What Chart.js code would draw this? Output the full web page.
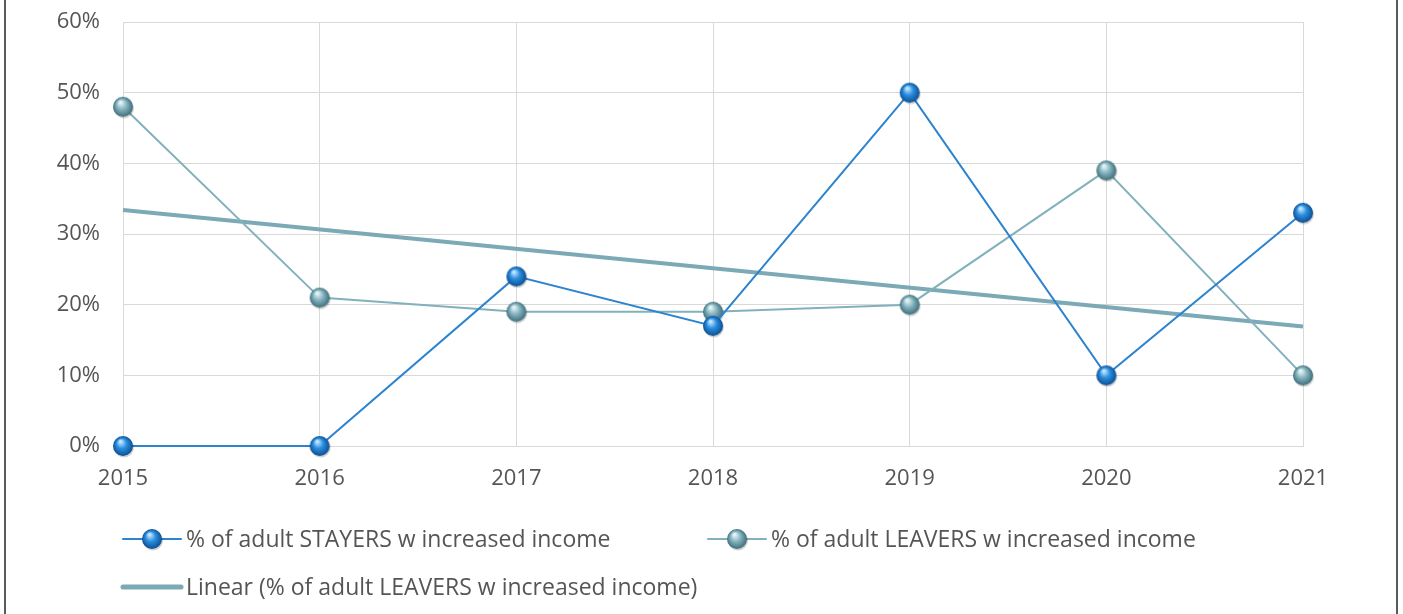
<!DOCTYPE html>
<html>
<head>
<meta charset="utf-8">
<script src="https://cdn.jsdelivr.net/npm/chart.js@4.4.1/dist/chart.umd.min.js"></script>
<style>
  html, body { margin: 0; padding: 0; background: #fff; }
  #wrap { position: relative; width: 1403px; height: 614px; }
</style>
</head>
<body>
<div id="wrap"><canvas id="lineChart" width="1403" height="614"></canvas></div>
<script>
// data
var years = ["2015", "2016", "2017", "2018", "2019", "2020", "2021"];
var stayers = [0, 0, 24, 17, 50, 10, 33];
var leavers = [48, 21, 19, 19, 20, 39, 10];
// trend line end points (Excel linear fit of leavers), middle left empty
var leaversTrend = [33.4, null, null, null, null, null, 16.9];

var stayersLabel = "% of adult STAYERS w increased income";
var leaversLabel = "% of adult LEAVERS w increased income";
var trendLabel = "Linear (% of adult LEAVERS w increased income)";

var FONT = "'Open Sans', 'Noto Sans', sans-serif";
var TEXT = "#555555";

// shaded ball marker
function ball(r, light, mid, dark) {
    var c = document.createElement("canvas");
    var s = r * 2 + 4;
    c.width = s; c.height = s;
    var g = c.getContext("2d");
    var cx = s / 2, cy = s / 2;
    // soft shadow
    g.beginPath();
    g.arc(cx + 1, cy + 1.5, r, 0, Math.PI * 2);
    g.fillStyle = "rgba(0,0,0,0.18)";
    g.fill();
    var grad = g.createRadialGradient(cx - r * 0.25, cy - r * 0.45, r * 0.1, cx, cy, r);
    grad.addColorStop(0, light);
    grad.addColorStop(0.45, mid);
    grad.addColorStop(1, dark);
    g.beginPath();
    g.arc(cx, cy, r, 0, Math.PI * 2);
    g.fillStyle = grad;
    g.fill();
    return c;
}

var blueBall = ball(10, "#bfe4ff", "#2a8ee0", "#0d4f91");
var tealBall = ball(10, "#e4f3f6", "#86b5c0", "#3f6f7b");

var legendPlugin = {
    id: "bottomLegend",
    afterDraw: function (chart) {
        var ctx = chart.ctx;
        ctx.save();
        ctx.font = "23px " + FONT;
        ctx.fillStyle = TEXT;
        ctx.textBaseline = "middle";
        ctx.textAlign = "left";

        function item(x, y, color, width, marker, text) {
            ctx.beginPath();
            ctx.moveTo(x, y);
            ctx.lineTo(x + 58, y);
            ctx.strokeStyle = color;
            ctx.lineWidth = width;
            ctx.lineCap = "round";
            ctx.stroke();
            if (marker) ctx.drawImage(marker, x + 29 - marker.width / 2, y - marker.height / 2);
            ctx.fillText(text, x + 63, y + 1);
        }
        item(123, 539, "#2c83cf", 2, blueBall, stayersLabel);
        item(708, 539, "#82b1bd", 2, tealBall, leaversLabel);
        item(123, 587, "#7ba9b6", 5, null, trendLabel);

        // frame lines at the sides
        ctx.fillStyle = "#5a5a5a";
        ctx.fillRect(4, 0, 2, 614);
        ctx.fillRect(1396, 0, 2, 614);
        ctx.restore();
    }
};

var ctx2 = document.getElementById("lineChart").getContext("2d");

new Chart(ctx2, {
    type: "line",
    data: {
        labels: years,
        datasets: [
            {
                label: stayersLabel,
                data: stayers,
                borderColor: "#2c83cf",
                borderWidth: 2,
                pointStyle: blueBall,
                tension: 0,
                clip: false,
                order: 1
            },
            {
                label: leaversLabel,
                data: leavers,
                borderColor: "#82b1bd",
                borderWidth: 2,
                pointStyle: tealBall,
                tension: 0,
                clip: false,
                order: 2
            },
            {
                label: trendLabel,
                data: leaversTrend,
                borderColor: "#7ba9b6",
                borderWidth: 4,
                pointRadius: 0,
                spanGaps: true,
                order: 3
            }
        ]
    },
    options: {
        responsive: false,
        animation: false,
        layout: { padding: { left: 0, right: 100, top: 22, bottom: 118 } },
        plugins: {
            legend: { display: false },
            tooltip: { enabled: false }
        },
        scales: {
            x: {
                offset: false,
                grid: { color: "#d9d9d9", lineWidth: 1, drawTicks: false },
                border: { color: "#d9d9d9" },
                ticks: { color: TEXT, font: { family: FONT, size: 22 }, padding: 20, maxRotation: 0 },
                afterFit: function (s) {
                    s.height = 50;
                    s.paddingLeft = 0;
                    s.paddingRight = 0;
                }
            },
            y: {
                min: 0,
                max: 60,
                grid: { color: "#d9d9d9", lineWidth: 1, drawTicks: false },
                border: { display: false },
                ticks: {
                    stepSize: 10,
                    color: TEXT,
                    font: { family: FONT, size: 22 },
                    padding: 23,
                    callback: function (v) { return v + "%"; }
                },
                afterFit: function (s) {
                    s.width = 123;
                    s.paddingTop = 0;
                    s.paddingBottom = 0;
                }
            }
        }
    },
    plugins: [legendPlugin]
});
</script>
</body>
</html>
